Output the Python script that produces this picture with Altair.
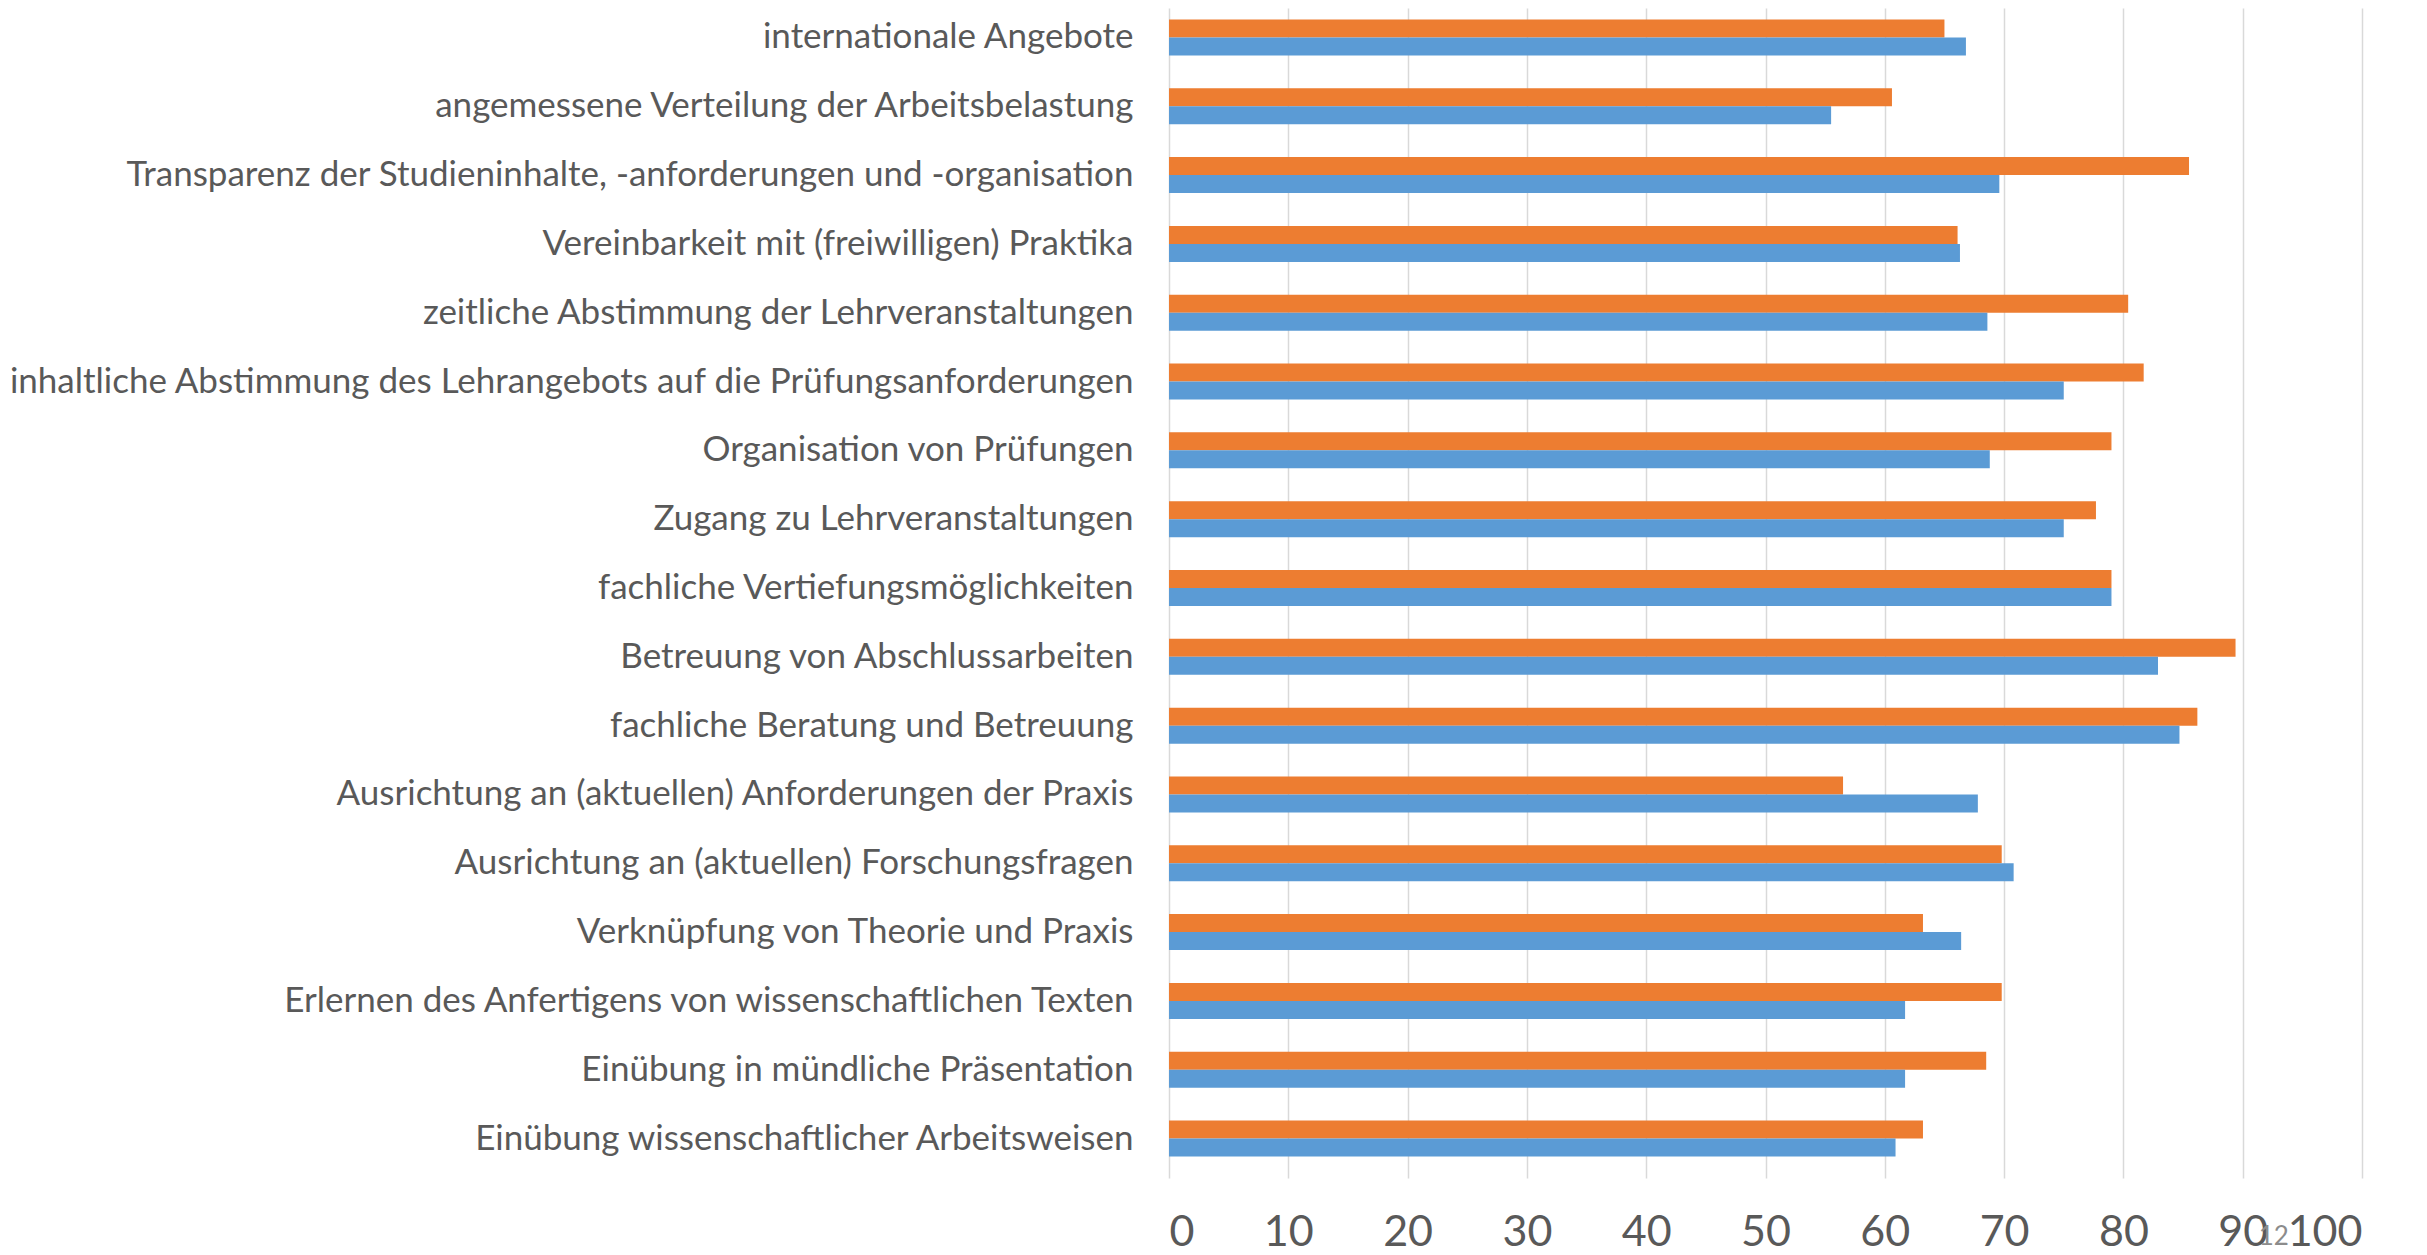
import altair as alt
import pandas as pd

categories = [
    "internationale Angebote",
    "angemessene Verteilung der Arbeitsbelastung",
    "Transparenz der Studieninhalte, -anforderungen und -organisation",
    "Vereinbarkeit mit (freiwilligen) Praktika",
    "zeitliche Abstimmung der Lehrveranstaltungen",
    "inhaltliche Abstimmung des Lehrangebots auf die Prüfungsanforderungen",
    "Organisation von Prüfungen",
    "Zugang zu Lehrveranstaltungen",
    "fachliche Vertiefungsmöglichkeiten",
    "Betreuung von Abschlussarbeiten",
    "fachliche Beratung und Betreuung",
    "Ausrichtung an (aktuellen) Anforderungen der Praxis",
    "Ausrichtung an (aktuellen) Forschungsfragen",
    "Verknüpfung von Theorie und Praxis",
    "Erlernen des Anfertigens von wissenschaftlichen Texten",
    "Einübung in mündliche Präsentation",
    "Einübung wissenschaftlicher Arbeitsweisen",
]
reihe_1_blau = [66.8, 55.5, 69.6, 66.3, 68.6, 75.0, 68.8, 75.0, 79.0, 82.9, 84.7, 67.8, 70.8, 66.4, 61.7, 61.7, 60.9]
reihe_2_orange = [65.0, 60.6, 85.5, 66.1, 80.4, 81.7, 79.0, 77.7, 79.0, 89.4, 86.2, 56.5, 69.8, 63.2, 69.8, 68.5, 63.2]
series_names = ["Reihe 2", "Reihe 1"]  # top bar first
series_colors = ["#ED7D31", "#5B9BD5"]
x_ticks = [0, 10, 20, 30, 40, 50, 60, 70, 80, 90, 100]
slide_number = ["12"]
slide_number_x = [92.6]

rows = []
for c, b, o in zip(categories, reihe_1_blau, reihe_2_orange):
    rows.append({"Kategorie": c, "Reihe": "Reihe 2", "Wert": o})
    rows.append({"Kategorie": c, "Reihe": "Reihe 1", "Wert": b})
df = pd.DataFrame(rows)

label_color = "#595959"

bars = alt.Chart(df).mark_bar().encode(
    x=alt.X(
        "Wert:Q",
        scale=alt.Scale(domain=[0, 100], nice=False),
        axis=alt.Axis(
            values=x_ticks, title=None, grid=True, gridColor="#D9D9D9", gridWidth=1.5,
            domain=False, ticks=False, labelFont="Lato", labelFontSize=43,
            labelColor=label_color, labelPadding=72, labelBaseline="alphabetic",
        ),
    ),
    y=alt.Y(
        "Kategorie:N",
        sort=categories,
        scale=alt.Scale(paddingInner=0.477, paddingOuter=0.2385, range=[-5, 1165]),
        axis=alt.Axis(
            title=None, domain=False, ticks=False, labelFont="Lato", labelFontSize=35,
            labelColor=label_color, labelPadding=36, labelLimit=1200,
        ),
    ),
    yOffset=alt.YOffset("Reihe:N", scale=alt.Scale(domain=series_names, paddingInner=0, paddingOuter=0)),
    color=alt.Color("Reihe:N", scale=alt.Scale(domain=series_names, range=series_colors), legend=None),
)

num_df = pd.DataFrame({"t": slide_number, "x": slide_number_x})
slide_num = alt.Chart(num_df).mark_text(
    font="Lato", fontSize=26, color="#8C8C8C", baseline="middle", align="center"
).encode(
    x=alt.X("x:Q"),
    y=alt.value(1229),
    text="t:N",
)

chart = alt.layer(bars, slide_num).properties(
    width=1193,
    height=1165,
    autosize=alt.AutoSizeParams(type="none"),
    padding={"left": 1161, "top": 0, "right": 40, "bottom": 82},
    background="white",
).configure_view(stroke=None)

chart.save("out.html", embed_options={"renderer": "svg", "actions": False})
